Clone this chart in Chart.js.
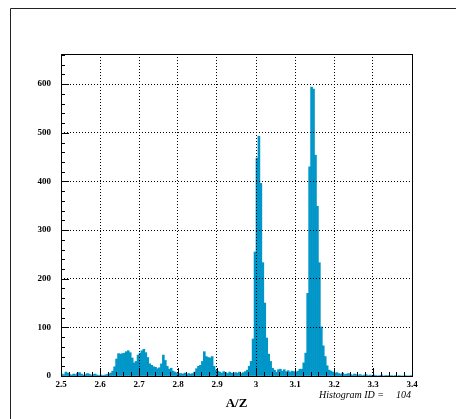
<!DOCTYPE html>
<html>
<head>
<meta charset="utf-8">
<title>A/Z</title>
<script src="https://cdn.jsdelivr.net/npm/chart.js@4.4.1/dist/chart.umd.min.js"></script>
<style>
  html, body { margin: 0; padding: 0; background: #fff; }
  canvas { display: block; }
</style>
</head>
<body>
<canvas id="container" width="456" height="419"></canvas>
<script>
// histogram binning
var xMin = 2.5
var xMax = 3.4
var binWidth = 0.005
var yMax = 662

// entries per bin, 180 bins from 2.5 to 3.4
var counts = [
  4, 3, 8, 6, 3, 2, 4, 3, 6, 7, 4, 2, 3, 5, 4, 2, 3, 4, 2, 1,
  2, 1, 2, 3, 4, 6, 10, 19, 35, 46, 45, 46, 47, 50, 52, 48, 37, 27, 30, 43,
  47, 52, 55, 48, 38, 25, 22, 19, 18, 15, 17, 25, 43, 32, 20, 14, 16, 10, 8, 6,
  5, 5, 4, 6, 3, 5, 4, 5, 8, 15, 20, 22, 30, 50, 40, 38, 37, 40, 20, 12,
  10, 8, 6, 9, 7, 5, 8, 6, 5, 7, 6, 8, 5, 7, 9, 12, 20, 30, 76, 255,
  448, 493, 396, 233, 150, 78, 45, 30, 16, 12, 8, 13, 14, 10, 13, 9, 11, 8, 10, 9,
  8, 10, 14, 14, 27, 47, 170, 430, 594, 590, 454, 349, 233, 101, 62, 40, 21, 12, 10, 8,
  6, 7, 5, 4, 6, 3, 4, 5, 3, 2, 4, 3, 2, 3, 1, 2, 3, 1, 2, 1,
  2, 1, 0, 1, 2, 0, 1, 1, 0, 1, 0, 1, 0, 1, 0, 0, 1, 0, 0, 1
]

var xTicks = [2.5, 2.6, 2.7, 2.8, 2.9, 3.0, 3.1, 3.2, 3.3, 3.4]
var yTicks = [0, 100, 200, 300, 400, 500, 600]
var xTitle = "A/Z"
var histLabel = "Histogram ID ="
var histId = "104"

function getHistogramPoints() {
  var points = []
  for (var i = 0; i < counts.length; i++) {
    points.push({ x: xMin + (i + 0.5) * binWidth, y: counts[i] })
  }
  return points
}

// frame, inward ticks and the id label, drawn like a ROOT pad
var padDecor = {
  id: "padDecor",
  beforeDraw: function(chart) {
    var ctx = chart.ctx
    ctx.save()
    ctx.strokeStyle = "#222"
    ctx.lineWidth = 1
    ctx.beginPath()
    ctx.moveTo(10.5, 419)
    ctx.lineTo(10.5, 8.5)
    ctx.lineTo(456, 8.5)
    ctx.stroke()
    ctx.restore()
  },
  afterDraw: function(chart) {
    var ctx = chart.ctx
    var a = chart.chartArea
    var xs = chart.scales.x
    var ys = chart.scales.y
    ctx.save()
    ctx.strokeStyle = "#000"
    ctx.lineWidth = 1
    ctx.strokeRect(Math.round(a.left) + 0.5, Math.round(a.top) + 0.5,
      Math.round(a.right - a.left), Math.round(a.bottom - a.top))

    ctx.beginPath()
    // y ticks, major every 100, minor every 20
    for (var v = 0; v <= yMax; v += 20) {
      var py = Math.round(ys.getPixelForValue(v)) + 0.5
      var len = (v % 100 === 0) ? 8 : 4
      ctx.moveTo(a.left, py)
      ctx.lineTo(a.left + len, py)
    }
    // x ticks, major every 0.1, minor every 0.02
    for (var k = 0; k <= 45; k++) {
      var xv = xMin + k * 0.02
      var px = Math.round(xs.getPixelForValue(xv)) + 0.5
      var l = (k % 5 === 0) ? 8 : 4
      ctx.moveTo(px, a.bottom)
      ctx.lineTo(px, a.bottom - l)
    }
    ctx.stroke()

    ctx.fillStyle = "#000"
    ctx.font = "italic 10px 'Liberation Serif'"
    ctx.textBaseline = "alphabetic"
    ctx.textAlign = "left"
    ctx.fillText(histLabel, 319, 398)
    ctx.textAlign = "right"
    ctx.fillText(histId, 411, 398)
    ctx.restore()
  }
}

function renderHistogram() {
  var container = document.getElementById("container")
  var chart = new Chart(container, {
    type: "bar",
    data: {
      datasets: [{
        data: getHistogramPoints(),
        backgroundColor: "#0096c8",
        borderWidth: 0,
        barPercentage: 1,
        categoryPercentage: 1,
        grouped: false
      }]
    },
    options: {
      responsive: false,
      animation: false,
      devicePixelRatio: 1,
      layout: { padding: { left: 0, top: 54, right: 44, bottom: 0 } },
      plugins: { legend: { display: false }, tooltip: { enabled: false } },
      scales: {
        x: {
          type: "linear",
          min: xMin,
          max: xMax,
          offset: false,
          grid: { offset: false, color: "#000", lineWidth: 1, drawTicks: false, z: 1 },
          border: { display: false, dash: [1, 2] },
          afterBuildTicks: function(scale) {
            scale.ticks = xTicks.map(function(v) { return { value: v } })
          },
          afterFit: function(scale) { scale.height = 43 },
          ticks: {
            color: "#000",
            padding: 3,
            maxRotation: 0,
            autoSkip: false,
            font: { family: "'Liberation Serif'", weight: "bold", size: 9 },
            callback: function(v) { return String(Math.round(v * 10) / 10) }
          },
          title: {
            display: true,
            text: xTitle,
            color: "#000",
            font: { family: "'Liberation Serif'", weight: "bold", size: 13 },
            padding: { top: 0, bottom: 8 }
          }
        },
        y: {
          min: 0,
          max: yMax,
          grid: { color: "#000", lineWidth: 1, drawTicks: false, z: 1 },
          border: { display: false, dash: [1, 2] },
          afterBuildTicks: function(scale) {
            scale.ticks = yTicks.map(function(v) { return { value: v } })
          },
          afterFit: function(scale) { scale.width = 61 },
          ticks: {
            color: "#000",
            padding: 10,
            font: { family: "'Liberation Serif'", weight: "bold", size: 9 }
          }
        }
      }
    },
    plugins: [padDecor]
  })
  return chart
}

renderHistogram()
</script>
</body>
</html>
